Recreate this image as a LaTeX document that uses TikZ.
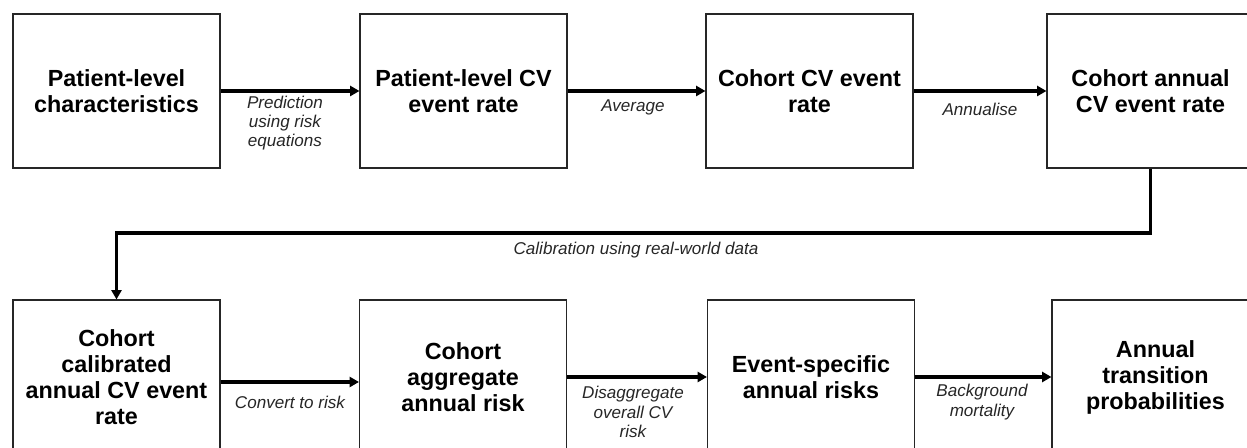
\documentclass[tikz,border=0pt]{standalone}
\usepackage{fontspec}
\setmainfont{Liberation Sans}
\usetikzlibrary{arrows.meta}

\begin{document}
\begin{tikzpicture}[x=0.75pt,y=0.75pt,yscale=-1,xscale=1,
  stage/.style={draw=black!85, line width=0.8pt, minimum width=155.25pt, minimum height=115.5pt, inner sep=0pt, align=center, font=\fontsize{17.5}{19.5}\selectfont\bfseries},
  flow/.style={line width=2.3pt, -{Triangle[length=7pt,width=7.5pt]}},
  note/.style={align=center, font=\fontsize{12.8}{14.5}\selectfont\itshape, text=black!85}]
\useasboundingbox (0,0) rectangle (1247,448);
\clip (0,0) rectangle (1247,448);

% Top row
\node [stage] (patchar) at (116.5,91) {Patient-level\\characteristics};
\node [stage] (patrate) at (463.5,91) {Patient-level CV\\event rate};
\node [stage] (cohrate) at (809.5,91) {Cohort CV event\\rate};
\node [stage] (annrate) at (1150.5,91) {Cohort annual\\CV event rate};

% Bottom row
\node [stage] (calrate) at (116.5,377) {Cohort\\calibrated\\annual CV event\\rate};
\node [stage] (aggrisk) at (463,377) {Cohort\\aggregate\\annual risk};
\node [stage] (evtrisk) at (811,377) {Event-specific\\annual risks};
\node [stage] (transprob) at (1155.5,377) {Annual\\transition\\probabilities};

% Arrows
\draw [flow] (patchar) -- (patrate);
\draw [flow] (patrate) -- (cohrate);
\draw [flow] (cohrate) -- (annrate);
\coordinate (bend) at (116.5,233);
\draw [flow] (annrate.south) |- (bend) -- (calrate.north);
\draw [flow] ([yshift=3.75pt]calrate.east) -- ([yshift=3.75pt]aggrisk.west);
\draw [flow] (aggrisk) -- (evtrisk);
\draw [flow] (evtrisk) -- (transprob);

% Text Node
\node [note] (predict) at (285,123) {Prediction\\using risk\\equations};
\node [note] (average) at (633,107) {Average};
\node [note] (annualise) at (980,109) {Annualise};
\node [note] (calib) at (636,250) {Calibration using real-world data};
\node [note] (convert) at (290,402) {Convert to risk};
\node [note] (disagg) at (633,412) {Disaggregate\\overall CV\\risk};
\node [note] (backgr) at (982,402) {Background\\mortality};

\end{tikzpicture}
\end{document}
